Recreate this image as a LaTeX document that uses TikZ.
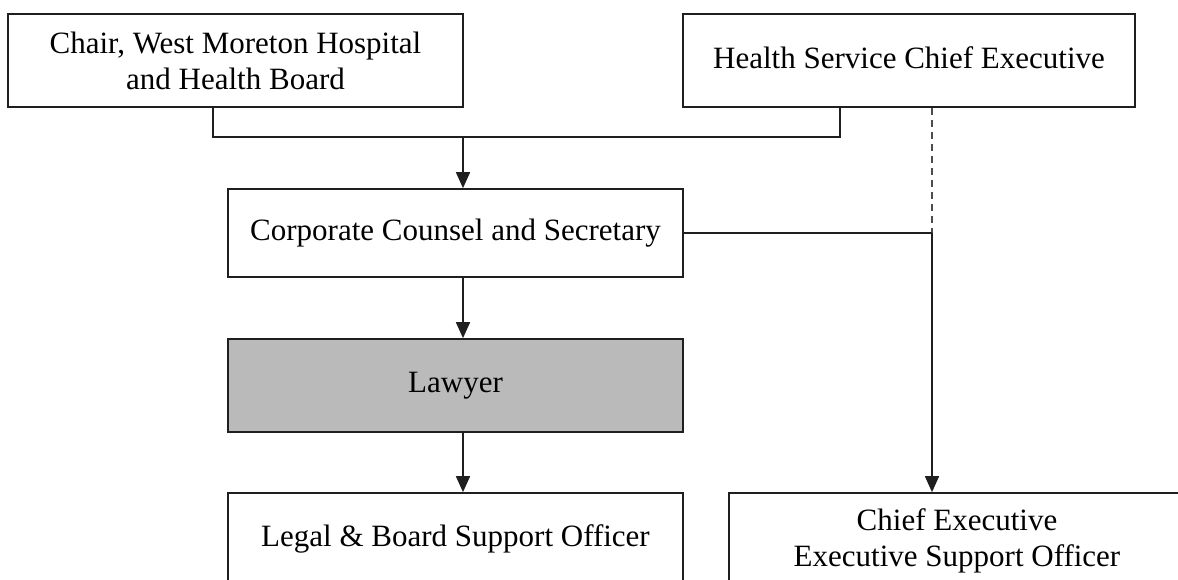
\documentclass[tikz,border=0pt]{standalone}
\usepackage{fontspec}
\setmainfont{Liberation Serif}
\usetikzlibrary{arrows.meta}
\begin{document}
\begin{tikzpicture}[x=1pt,y=-1pt,
  box/.style={draw=black!88, line width=1.7pt, fill=white, align=center, inner sep=0pt,
    font=\fontsize{31}{36}\selectfont},
  conn/.style={draw=black!88, line width=1.7pt},
  arr/.style={conn, -{Triangle[length=16pt,width=14pt]}},
  dashline/.style={draw=black!70, line width=1.4pt, dash pattern=on 7pt off 5pt}]
\useasboundingbox (0,0) rectangle (1178,580);
\clip (0,0) rectangle (1178,580);
\fill[white] (0,0) rectangle (1178,580);
% boxes
\node[box, minimum width=455pt, minimum height=93pt] (chair) at (235.5,60.5)
  {Chair, West Moreton Hospital\\and Health Board};
\node[box, minimum width=452pt, minimum height=93pt] (hsce) at (909,60.5)
  {\raisebox{5pt}{Health Service Chief Executive}};
\node[box, minimum width=455pt, minimum height=88pt] (corp) at (455.5,233)
  {Corporate Counsel and Secretary};
\node[box, fill=black!27, minimum width=455pt, minimum height=93pt] (lawyer) at (455.5,385.5)
  {Lawyer};
\node[box, minimum width=455pt, minimum height=92pt] (legal) at (455.5,539)
  {Legal \& Board Support Officer};
\node[box, minimum width=456pt, minimum height=96pt] (ce) at (957,541)
  {Chief Executive\\Executive Support Officer};
% junction coordinates
\coordinate (jl) at (213,137);
\coordinate (jr) at (840,137);
\coordinate (jm) at (463,137);
\coordinate (k) at (932,233);
% connectors
\draw[conn] (chair.south -| jl) -- (jl) -- (jr) -- (hsce.south -| jr);
\draw[arr] (jm) -- (corp.north -| jm);
\draw[arr] (corp.south -| jm) -- (lawyer.north -| jm);
\draw[arr] (lawyer.south -| jm) -- (legal.north -| jm);
\draw[dashline] (hsce.south -| k) -- (k);
\draw[conn] (corp.east) -- (k);
\draw[arr] (k) -- (ce.north -| k);
\end{tikzpicture}
\end{document}
